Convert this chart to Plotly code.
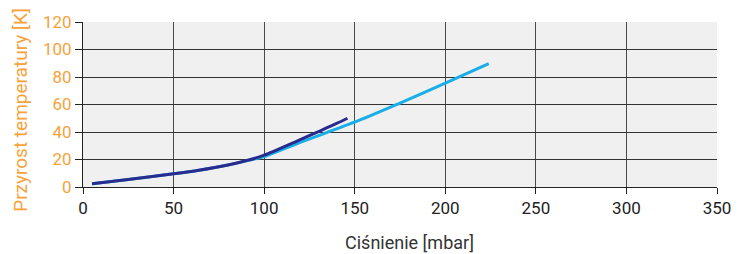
import plotly.graph_objects as go

# Data
dark_x = [5, 25, 50, 64, 80, 92, 100, 120, 130, 140, 146]
dark_y = [2.3, 5.5, 9.6, 12.2, 16.0, 19.8, 23.2, 34.5, 40.3, 46.2, 50.0]
light_x = [5, 25, 50, 64, 80, 92, 100, 119, 152, 175, 200, 224]
light_y = [2.3, 5.5, 9.6, 12.2, 16.0, 19.6, 22.2, 32.0, 48.2, 61.0, 75.5, 89.8]

x_ticks = [0, 50, 100, 150, 200, 250, 300, 350]
y_ticks = [0, 20, 40, 60, 80, 100, 120]

orange = "#F7A23B"
fig = go.Figure()
fig.add_trace(go.Scatter(x=light_x, y=light_y, mode="lines",
                         line=dict(color="#19AEE8", width=3, shape="spline", smoothing=0.8),
                         showlegend=False))
fig.add_trace(go.Scatter(x=dark_x, y=dark_y, mode="lines",
                         line=dict(color="#2A2B8E", width=3, shape="spline", smoothing=0.8),
                         showlegend=False))

fig.update_layout(
    width=739, height=246,
    margin=dict(l=75, r=30, t=14, b=67),
    paper_bgcolor="white", plot_bgcolor="#F0F0F0",
    font=dict(family="Roboto", size=15, color="#222"),
    xaxis=dict(range=[0, 350], tickvals=x_ticks, showgrid=True, automargin=False,
               gridcolor="#4a4a4a", gridwidth=1, zeroline=False,
               showline=True, linecolor="#222", linewidth=1,
               ticks="outside", ticklen=6, tickcolor="#222",
               tickfont=dict(size=17, color="#222")),
    yaxis=dict(range=[0, 120], tickvals=y_ticks, showgrid=True, automargin=False,
               gridcolor="#333", gridwidth=1, zeroline=False,
               showline=True, linecolor="#222", linewidth=1,
               ticks="outside", ticklen=7, tickcolor="#222",
               tickfont=dict(size=17, color=orange)),
    annotations=[
        dict(text="Ciśnienie [mbar]", xref="paper", yref="paper",
             x=0.515, y=-0.336, showarrow=False, xanchor="center", yanchor="middle",
             font=dict(size=18, color="#333")),
        dict(text="Przyrost temperatury [K]", xref="paper", yref="paper",
             x=-0.098, y=0.467, showarrow=False, xanchor="center", yanchor="middle",
             textangle=-90, font=dict(size=19, color=orange)),
    ],
)
fig.write_html("out.html")
